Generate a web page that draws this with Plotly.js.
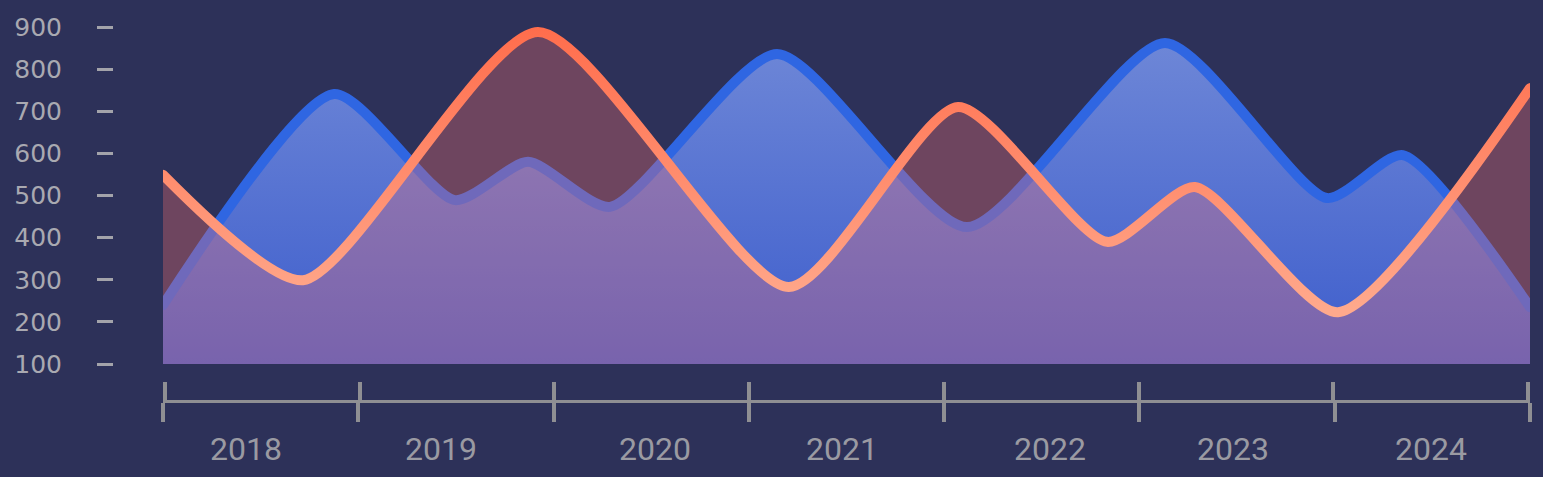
<!DOCTYPE html>
<html>
<head>
<meta charset="utf-8">
<script src="https://cdn.plot.ly/plotly-3.0.1.min.js"></script>
<style>
  html, body { margin: 0; padding: 0; background: #2d3159; }
  #chart { width: 1543px; height: 477px; }
</style>
</head>
<body>
<div id="chart"></div>
<script>
// ---- data ----
const blueX   = [2018.0, 2018.876, 2019.495, 2019.869, 2020.289, 2021.144, 2022.117, 2023.131, 2023.960, 2024.349, 2025.0];
const blueY   = [240, 741, 489, 580, 473, 836, 425, 862, 494, 596, 235];
const orangeX = [2018.0, 2018.717, 2019.920, 2021.205, 2022.071, 2022.834, 2023.284, 2024.017, 2025.0];
const orangeY = [549, 299, 888, 283, 710, 390, 520, 223, 755];
const yearBounds = [2018, 2019, 2020, 2021, 2022, 2023, 2024, 2025];
const yearLabelPos = [2018.425, 2019.424, 2020.519, 2021.477, 2022.542, 2023.479, 2024.493];
const yearLabels = ['2018', '2019', '2020', '2021', '2022', '2023', '2024'];
const yTicks     = [100, 200, 300, 400, 500, 600, 700, 800, 900];

const bg = '#2d3159';
const axisGray = '#8f8f93';
const xRange = [2018, 2025];
const pxPerYear = 195.29;
const pad = 2 / pxPerYear;
const xRangeWide = [2018 - pad, 2025 + pad];
const axPos = 0.1242;
const mainDomain = [0.100460, 0.998030];
const wideDomain = [0.099146, 0.999343];

const traces = [
  {
    x: blueX, y: blueY, type: 'scatter', mode: 'lines',
    line: { color: '#2f66e2', width: 10, shape: 'spline', smoothing: 0.65 },
    fill: 'tozeroy',
    fillgradient: { type: 'vertical', start: 100, stop: 870,
      colorscale: [[0, '#3d5dcc'], [1, '#6e87d7']] },
    hoverinfo: 'skip', showlegend: false
  },
  {
    x: orangeX, y: orangeY, type: 'scatter', mode: 'lines',
    line: { color: '#ff8a66', width: 10, shape: 'spline', smoothing: 0.65 },
    fill: 'tozeroy',
    fillcolor: 'rgba(242,113,110,0.33)',
    hoverinfo: 'skip', showlegend: false
  },
  { x: [], y: [], xaxis: 'x2', type: 'scatter', mode: 'lines', showlegend: false, hoverinfo: 'skip' },
  { x: [], y: [], xaxis: 'x3', type: 'scatter', mode: 'lines', showlegend: false, hoverinfo: 'skip' }
];

const layout = {
  width: 1543, height: 477,
  paper_bgcolor: bg, plot_bgcolor: bg,
  margin: { l: 10, r: 10, t: 10, b: 20 },
  showlegend: false,
  xaxis: {
    domain: mainDomain, range: xRange, anchor: 'free', position: axPos,
    showgrid: false, zeroline: false,
    showline: true, linecolor: axisGray, linewidth: 3,
    tickmode: 'array', tickvals: yearBounds, showticklabels: false,
    ticks: 'outside', ticklen: 19, tickwidth: 4, tickcolor: axisGray
  },
  xaxis2: {
    domain: wideDomain, range: xRangeWide, anchor: 'free', position: axPos, overlaying: 'x',
    showgrid: false, zeroline: false, showline: false,
    tickmode: 'array', tickvals: yearBounds, showticklabels: false,
    ticks: 'inside', ticklen: 19, tickwidth: 4, tickcolor: axisGray
  },
  xaxis3: {
    domain: mainDomain, range: xRange, anchor: 'free', position: axPos, overlaying: 'x',
    showgrid: false, zeroline: false, showline: false,
    tickmode: 'array', tickvals: yearLabelPos, ticktext: yearLabels,
    ticks: 'outside', ticklen: 19, tickcolor: 'rgba(0,0,0,0)',
    tickfont: { family: 'Roboto, sans-serif', size: 32, color: '#9a9aa2' }
  },
  yaxis: {
    domain: [0.20805, 1], range: [100, 940.4], anchor: 'free', position: 0.067630,
    showgrid: false, zeroline: false, showline: false,
    tickmode: 'array', tickvals: yTicks,
    ticks: 'outside', ticklen: 16, tickwidth: 3, tickcolor: '#a3a3aa',
    ticklabelstandoff: 30,
    tickfont: { family: 'DejaVu Sans, sans-serif', size: 25, color: '#a9a9b1' }
  }
};

const gd = document.getElementById('chart');
Plotly.newPlot(gd, traces, layout, { staticPlot: true, displayModeBar: false }).then(function () {
  try {
    const svgNS = 'http://www.w3.org/2000/svg';
    const defs = gd.querySelector('.main-svg defs');
    const ya = gd._fullLayout.yaxis;
    const grad = document.createElementNS(svgNS, 'linearGradient');
    grad.setAttribute('id', 'orangeLineGrad');
    grad.setAttribute('gradientUnits', 'userSpaceOnUse');
    grad.setAttribute('x1', '0'); grad.setAttribute('x2', '0');
    grad.setAttribute('y1', String(ya.l2p(900)));
    grad.setAttribute('y2', String(ya.l2p(230)));
    [['0', '#ff6d4c'], ['1', '#ffa98c']].forEach(function (s) {
      const st = document.createElementNS(svgNS, 'stop');
      st.setAttribute('offset', s[0]); st.setAttribute('stop-color', s[1]);
      grad.appendChild(st);
    });
    defs.appendChild(grad);
    const tr = gd.querySelectorAll('.scatterlayer .trace');
    tr.forEach(function (t, i) {
      t.querySelectorAll('.js-line').forEach(function (p) {
        p.style.strokeLinecap = 'round';
        p.style.strokeLinejoin = 'round';
        if (i === 1) p.style.stroke = 'url(#orangeLineGrad)';
      });
    });
  } catch (e) { console.log(e); }
});
</script>
</body>
</html>
